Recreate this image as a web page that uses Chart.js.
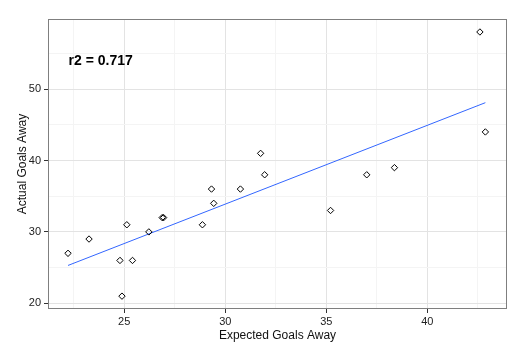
<!DOCTYPE html>
<html>
<head>
<meta charset="utf-8">
<script src="https://cdn.jsdelivr.net/npm/chart.js@4"></script>
<style>
  html, body { margin: 0; padding: 0; background: #fff; }
  #wrap { width: 527px; height: 354px; }
</style>
</head>
<body>
<div id="wrap"><canvas id="grafica"></canvas></div>
<script>
// datos
const esperados = [22.22, 23.26, 24.79, 24.89, 25.13, 25.41, 26.22, 26.88, 26.95, 28.87,
                   29.32, 29.43, 30.75, 31.75, 31.95, 35.21, 37.0, 38.37, 42.6, 42.87];
const reales = [27, 29, 26, 21, 31, 26, 30, 32, 32, 31,
                36, 34, 36, 41, 38, 33, 38, 39, 58, 44];
const ajusteX = [22.22, 42.87];
const ajusteY = [25.3, 48.1];
const ticksX = [22.5, 25, 27.5, 30, 32.5, 35, 37.5, 40, 42.5];
const ticksY = [20, 25, 30, 35, 40, 45, 50, 55];
const etiquetaR2 = 'r2 = 0.717';

const mayorX = v => v % 5 === 0;
const mayorY = v => v % 10 === 0;
const fuente = '"Liberation Sans", Arial, sans-serif';

const textoR2 = {
  id: 'textoR2',
  afterDatasetsDraw(chart) {
    const ctx = chart.ctx;
    const x = chart.scales.x.getPixelForValue(22.25);
    const y = chart.scales.y.getPixelForValue(53.9);
    ctx.save();
    ctx.font = 'bold 14px ' + fuente;
    ctx.fillStyle = '#000';
    ctx.textAlign = 'left';
    ctx.textBaseline = 'middle';
    ctx.fillText(etiquetaR2, x, y);
    ctx.restore();
  }
};

const borde = {
  id: 'borde',
  afterDatasetsDraw(chart) {
    const a = chart.chartArea;
    const ctx = chart.ctx;
    ctx.save();
    ctx.strokeStyle = '#7f7f7f';
    ctx.lineWidth = 1;
    ctx.strokeRect(a.left + 0.5, a.top + 0.5, a.right - a.left - 1, a.bottom - a.top - 1);
    ctx.restore();
  }
};

new Chart(document.getElementById('grafica'), {
  type: 'scatter',
  data: {
    datasets: [
      {
        data: esperados.map((x, i) => ({ x: x, y: reales[i] })),
        pointStyle: 'rectRot',
        pointRadius: 3.2,
        borderColor: '#000',
        backgroundColor: 'rgba(0,0,0,0)',
        borderWidth: 1,
        order: 1
      },
      {
        type: 'line',
        data: ajusteX.map((x, i) => ({ x: x, y: ajusteY[i] })),
        borderColor: '#3366FF',
        borderWidth: 1,
        pointRadius: 0,
        fill: false,
        order: 2
      }
    ]
  },
  options: {
    responsive: true,
    maintainAspectRatio: false,
    animation: false,
    layout: { padding: { top: 19, right: 20, left: 0, bottom: 0 } },
    plugins: { legend: { display: false }, tooltip: { enabled: false } },
    scales: {
      x: {
        type: 'linear',
        min: 21.23,
        max: 43.94,
        afterBuildTicks: s => { s.ticks = ticksX.map(v => ({ value: v })); },
        afterFit: s => { s.height = 45; },
        grid: {
          color: c => mayorX(c.tick.value) ? '#e3e3e3' : '#f4f4f4',
          tickColor: c => mayorX(c.tick.value) ? '#333' : 'rgba(0,0,0,0)',
          tickLength: 4
        },
        border: { display: false },
        ticks: {
          autoSkip: false,
          maxRotation: 0,
          padding: 2,
          color: '#222',
          font: { family: fuente, size: 11 },
          callback: v => mayorX(v) ? v : ''
        },
        title: {
          display: true,
          text: 'Expected Goals Away',
          color: '#111',
          font: { family: fuente, size: 12 },
          padding: { top: 0, bottom: 11 }
        }
      },
      y: {
        type: 'linear',
        min: 19.2,
        max: 59.82,
        afterBuildTicks: s => { s.ticks = ticksY.map(v => ({ value: v })); },
        afterFit: s => { s.width = 48; },
        grid: {
          color: c => mayorY(c.tick.value) ? '#e3e3e3' : '#f4f4f4',
          tickColor: c => mayorY(c.tick.value) ? '#333' : 'rgba(0,0,0,0)',
          tickLength: 4
        },
        border: { display: false },
        ticks: {
          autoSkip: false,
          padding: 3,
          color: '#222',
          font: { family: fuente, size: 11 },
          callback: v => mayorY(v) ? v : ''
        },
        title: {
          display: true,
          text: 'Actual Goals Away',
          color: '#111',
          font: { family: fuente, size: 12 },
          padding: { top: 15, bottom: 0 }
        }
      }
    }
  },
  plugins: [textoR2, borde]
});
</script>
</body>
</html>
